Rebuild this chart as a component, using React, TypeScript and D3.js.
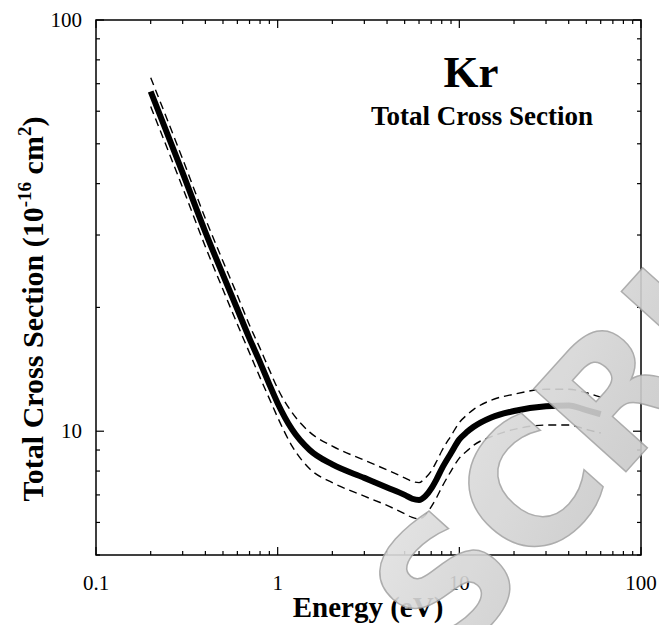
import React from 'react';
import * as d3 from 'd3';

// ---- data ----
const energy = [0.2, 0.3, 0.4, 0.5, 0.6, 0.7, 0.8, 0.9, 1.0, 1.2, 1.5, 2, 3, 4, 5, 5.5, 6, 6.5, 7, 7.5, 8, 9, 10, 11, 12, 15, 20, 30, 40, 50, 60];
const sigma = [67, 42.5, 30.5, 24, 19.8, 16.8, 14.7, 13.0, 11.7, 10.1, 9.0, 8.3, 7.7, 7.3, 7.0, 6.85, 6.8, 6.95, 7.25, 7.65, 8.1, 8.85, 9.55, 9.95, 10.25, 10.8, 11.2, 11.5, 11.55, 11.25, 11.0];
const sigmaUpper = [72.4, 45.9, 32.9, 25.9, 21.4, 18.1, 15.9, 14.1, 12.7, 11.1, 9.95, 9.2, 8.5, 8.05, 7.7, 7.55, 7.5, 7.7, 8.0, 8.45, 8.95, 9.75, 10.5, 10.95, 11.3, 11.9, 12.3, 12.65, 12.65, 12.4, 12.1];
const sigmaLower = [61.6, 39.1, 28.1, 22.1, 18.2, 15.5, 13.5, 12.0, 10.8, 9.2, 8.1, 7.5, 6.95, 6.6, 6.3, 6.17, 6.12, 6.25, 6.55, 6.9, 7.3, 8.0, 8.6, 8.95, 9.25, 9.7, 10.1, 10.35, 10.35, 10.1, 9.9];

const xMajorTicks = [0.1, 1, 10, 100];
const xTickLabels = ['0.1', '1', '10', '100'];
const yMajorTicks = [10, 100];
const yTickLabels = ['10', '100'];

const titleText = 'Kr';
const subtitleText = 'Total Cross Section';
const xTitle = 'Energy (eV)';
const watermarkText = 'SCRIPT';

// ---- layout ----
const W = 659;
const H = 625;
const M = { left: 96, top: 20, right: 18, bottom: 70 };
const serif = '"Liberation Serif", "Times New Roman", serif';

export default function App() {
  const x = d3.scaleLog().domain([0.1, 100]).range([M.left, W - M.right]);
  const y = d3.scaleLog().domain([5, 100]).range([H - M.bottom, M.top]);
  const x0 = M.left, x1 = W - M.right, y0 = H - M.bottom, y1 = M.top;

  const mk = (vals: number[]) =>
    d3.line<number>()
      .x((_, i) => x(energy[i]))
      .y((v) => y(v))
      .curve(d3.curveMonotoneX)(vals) || '';

  const xTicksAll = x.ticks();
  const yTicksAll = y.ticks();
  const isMajorX = (v: number) => xMajorTicks.some((m) => Math.abs(m - v) / m < 1e-6);
  const isMajorY = (v: number) => yMajorTicks.some((m) => Math.abs(m - v) / m < 1e-6);

  const wmx = 450, wmy = 667;

  return (
    <div style={{ position: 'absolute', left: 0, top: 0 }}>
      <svg width={W} height={H} style={{ display: 'block', background: '#fff' }}>
        <defs>
          <linearGradient id="wmGrad" x1="0" y1="0" x2="1" y2="1">
            <stop offset="0%" stopColor="#e4e4e4" />
            <stop offset="50%" stopColor="#cfcfcf" />
            <stop offset="100%" stopColor="#bdbdbd" />
          </linearGradient>
        </defs>
        {/* curves */}
        <path d={mk(sigmaUpper)} fill="none" stroke="#000" strokeWidth={1.4} strokeDasharray="8,5" />
        <path d={mk(sigmaLower)} fill="none" stroke="#000" strokeWidth={1.4} strokeDasharray="8,5" />
        <path d={mk(sigma)} fill="none" stroke="#000" strokeWidth={6} strokeLinejoin="round" />

        {/* frame */}
        <rect x={x0} y={y1} width={x1 - x0} height={y0 - y1} fill="none" stroke="#000" strokeWidth={1.5} />

        {/* x ticks (bottom and top, inward) */}
        {xTicksAll.map((v, i) => {
          const len = isMajorX(v) ? 8 : 4;
          const px = x(v);
          return (
            <g key={'xt' + i}>
              <line x1={px} x2={px} y1={y0} y2={y0 - len} stroke="#000" strokeWidth={1.2} />
              <line x1={px} x2={px} y1={y1} y2={y1 + len} stroke="#000" strokeWidth={1.2} />
            </g>
          );
        })}
        {/* y ticks (left and right, inward) */}
        {yTicksAll.map((v, i) => {
          const len = isMajorY(v) ? 8 : 4;
          const py = y(v);
          return (
            <g key={'yt' + i}>
              <line x1={x0} x2={x0 + len} y1={py} y2={py} stroke="#000" strokeWidth={1.2} />
              <line x1={x1} x2={x1 - len} y1={py} y2={py} stroke="#000" strokeWidth={1.2} />
            </g>
          );
        })}

        {/* tick labels */}
        {xMajorTicks.map((v, i) => (
          <text key={'xl' + i} x={x(v)} y={y0 + 35} textAnchor="middle" fontFamily={serif} fontSize={21} fill="#000">
            {xTickLabels[i]}
          </text>
        ))}
        {yMajorTicks.map((v, i) => (
          <text key={'yl' + i} x={x0 - 14} y={y(v) + 7} textAnchor="end" fontFamily={serif} fontSize={21} fill="#000">
            {yTickLabels[i]}
          </text>
        ))}

        {/* axis titles */}
        <text x={368} y={H - 8} textAnchor="middle" fontFamily={serif} fontWeight="bold" fontSize={29} fill="#000">
          {xTitle}
        </text>
        <text transform={`translate(43, 309) rotate(-90)`} textAnchor="middle" fontFamily={serif} fontWeight="bold" fontSize={30} fill="#000">
          Total Cross Section (10
          <tspan dy={-12} fontSize={19}>-16</tspan>
          <tspan dy={12}> cm</tspan>
          <tspan dy={-12} fontSize={19}>2</tspan>
          <tspan dy={12}>)</tspan>
        </text>

        {/* in-plot titles */}
        <text x={471} y={87} textAnchor="middle" fontFamily={serif} fontWeight="bold" fontSize={45} fill="#000">
          {titleText}
        </text>
        <text x={482} y={125} textAnchor="middle" fontFamily={serif} fontWeight="bold" fontSize={27} fill="#000">
          {subtitleText}
        </text>

        {/* watermark */}
        <text
          transform={`translate(${wmx}, ${wmy}) rotate(-48)`}
          fontFamily='"DejaVu Sans", sans-serif'
          fontWeight="bold"
          fontSize={170}
          fill="url(#wmGrad)"
          stroke="#a5a5a5"
          strokeWidth={1.5}
          opacity={0.9}
        >
          {watermarkText}
        </text>
      </svg>
    </div>
  );
}
